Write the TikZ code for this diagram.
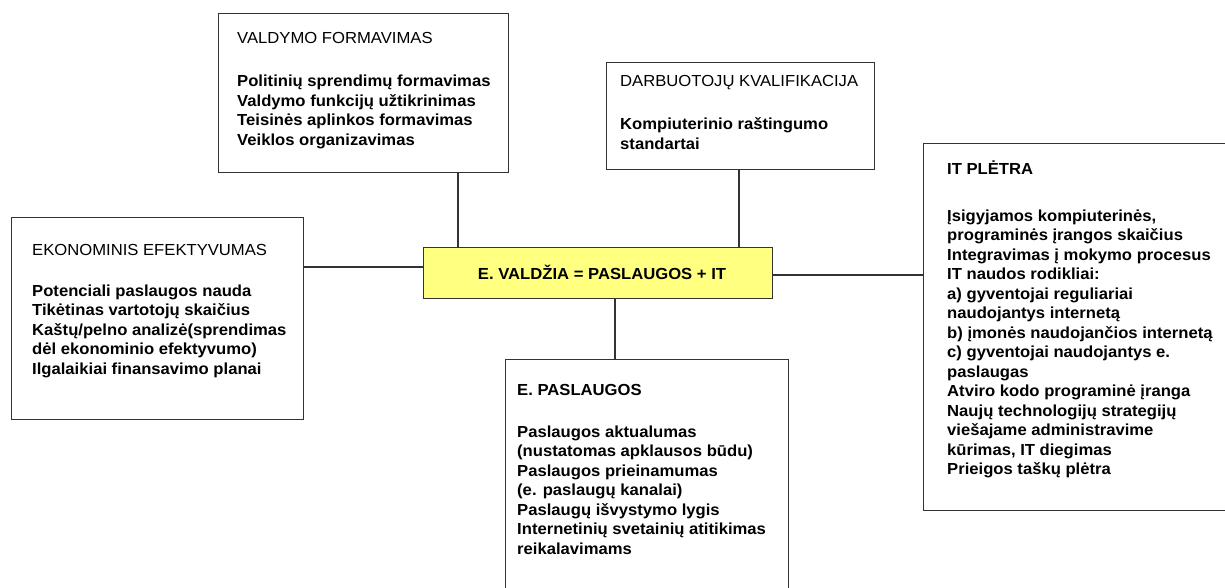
\documentclass[tikz,border=0pt]{standalone}
\usepackage{fontspec}
\setmainfont{Liberation Sans}[FakeStretch=1.04]
\definecolor{boxline}{RGB}{51,51,51}
\definecolor{centerfill}{RGB}{255,255,128}
\tikzset{
  box/.style={draw=boxline, line width=1.2pt, fill=white, rectangle, inner sep=0pt, anchor=north west},
  centerbox/.style={box, fill=centerfill},
  txt/.style={anchor=north west, inner sep=0pt, align=left, text=black,
     font=\fontsize{16}{19.5}\selectfont},
  link/.style={draw=boxline, line width=1.2pt},
}
\newcommand{\hd}[1]{\smash{\mdseries #1}}
\newcommand{\hdb}[1]{\smash{\bfseries #1}}
\begin{document}
\begin{tikzpicture}[x=1pt,y=-1pt]
\clip (0,0) rectangle (1225,588);
\fill[white] (0,0) rectangle (1225,588);
% boxes
\node[box, minimum width=290, minimum height=159] (valdymo) at (218,13) {};
\node[box, minimum width=268, minimum height=107] (darbuot) at (606,62) {};
\node[box, minimum width=292, minimum height=202] (ekon) at (11,217) {};
\node[centerbox, minimum width=349, minimum height=51] (center) at (423,247) {};
\node[box, minimum width=283, minimum height=260] (paslaugos) at (505,359) {};
\node[box, minimum width=330, minimum height=367] (it) at (923,143) {};
% connector guides
\coordinate (gv1) at (458,0);
\coordinate (gv2) at (739,0);
\coordinate (gv3) at (615,0);
\coordinate (gh1) at (0,267);
\coordinate (gh2) at (0,275);
\draw[link] (valdymo.south -| gv1) -- (center.north -| gv1);
\draw[link] (darbuot.south -| gv2) -- (center.north -| gv2);
\draw[link] (center.south -| gv3) -- (paslaugos.north -| gv3);
\draw[link] (ekon.east |- gh1) -- (center.west |- gh1);
\draw[link] (center.east |- gh2) -- (it.west |- gh2);
% texts
\node[anchor=center, inner sep=0pt, font=\fontsize{16}{19.5}\selectfont\bfseries] (centertxt) at (602,272) {E. VALDŽIA = PASLAUGOS + IT};
\node[txt] (valdymotxt) at (237,43.5) {\hd{VALDYMO FORMAVIMAS}\\[23.5pt]
\bfseries Politinių sprendimų formavimas\\
\bfseries Valdymo funkcijų užtikrinimas\\
\bfseries Teisinės aplinkos formavimas\\
\bfseries Veiklos organizavimas};
\node[txt] (darbuottxt) at (620,86.7) {\hd{DARBUOTOJŲ KVALIFIKACIJA}\\[23.5pt]
\bfseries Kompiuterinio raštingumo\\
\bfseries standartai};
\node[txt] (ekontxt) at (32,255) {\hd{EKONOMINIS EFEKTYVUMAS}\\[21.5pt]
\bfseries Potenciali paslaugos nauda\\
\bfseries Tikėtinas vartotojų skaičius\\
\bfseries Kaštų/pelno analizė(sprendimas\\
\bfseries dėl ekonominio efektyvumo)\\
\bfseries Ilgalaikiai finansavimo planai};
\node[txt] (paslaugostxt) at (517,395) {\hdb{E. PASLAUGOS}\\[22.5pt]
\bfseries Paslaugos aktualumas\\
\bfseries (nustatomas apklausos būdu)\\
\bfseries Paslaugos prieinamumas\\
\bfseries (e. paslaugų kanalai)\\
\bfseries Paslaugų išvystymo lygis\\
\bfseries Internetinių svetainių atitikimas\\
\bfseries reikalavimams};
\node[txt] (ittxt) at (947,174) {\hdb{IT PLĖTRA}\\[27.5pt]
\bfseries Įsigyjamos kompiuterinės,\\
\bfseries programinės įrangos skaičius\\
\bfseries Integravimas į mokymo procesus\\
\bfseries IT naudos rodikliai:\\
\bfseries a) gyventojai reguliariai\\
\bfseries naudojantys internetą\\
\bfseries b) įmonės naudojančios internetą\\
\bfseries c) gyventojai naudojantys e.\\
\bfseries paslaugas\\
\bfseries Atviro kodo programinė įranga\\
\bfseries Naujų technologijų strategijų\\
\bfseries viešajame administravime\\
\bfseries kūrimas, IT diegimas\\
\bfseries Prieigos taškų plėtra};
\end{tikzpicture}
\end{document}
